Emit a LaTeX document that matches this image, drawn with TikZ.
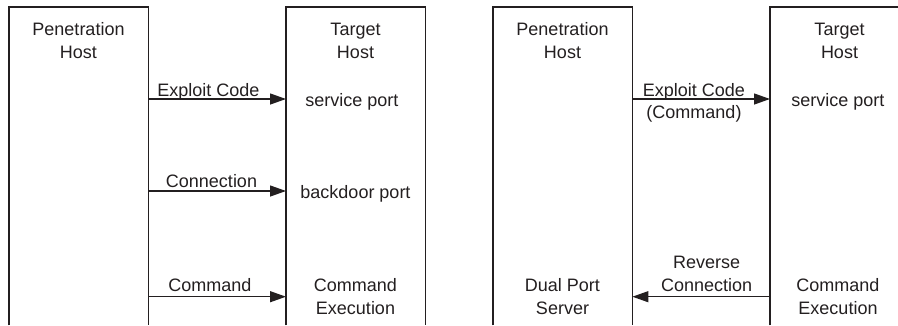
\documentclass[tikz,border=0pt]{standalone}
\usepackage{fontspec}
\setmainfont{Liberation Sans}
\usetikzlibrary{arrows.meta, positioning}
\definecolor{tinta}{RGB}{35, 31, 32}
\tikzset{
    host/.style={rectangle, draw=none, minimum width=139pt, minimum height=318pt, inner sep=0pt},
    wall/.style={tinta, line width=1.3pt},
    lbl/.style={text=tinta, font=\fontsize{18}{22.5}\selectfont, align=center, inner sep=0pt, anchor=base},
    msg/.style={-{Triangle[length=16pt, width=11pt]}, tinta, line width=1.3pt},
}

\begin{document}
\begin{tikzpicture}[x=1pt, y=-1pt]
    \useasboundingbox (0,0) rectangle (898,325);
    \clip (0,0) rectangle (898,325);
    % hosts, open at the bottom
    \node[host, anchor=north west] (pen1) at (9,7) {};
    \node[host, anchor=north west] (tgt1) at (286,7) {};
    \node[host, anchor=north west] (pen2) at (493,7) {};
    \node[host, anchor=north west] (tgt2) at (770,7) {};
    \draw[wall] (pen1.south west) |- (pen1.north east) -- (pen1.south east);
    \draw[wall] (tgt1.south west) |- (tgt1.north east) -- (tgt1.south east);
    \draw[wall] (pen2.south west) |- (pen2.north east) -- (pen2.south east);
    \draw[wall] (tgt2.south west) |- (tgt2.north east) -- (tgt2.south east);

    % base of a two-line label is its last line
    \node[lbl] (pen1t) at (78.5,58.3) {Penetration\\Host};
    \node[lbl] (tgt1t) at (355.5,58.3) {Target\\Host};
    \node[lbl] (svc1) at (352,106) {service port};
    \node[lbl] (bkd1) at (355.5,198) {backdoor port};
    \node[lbl] (exe1) at (355.5,314) {Command\\Execution};

    \node[lbl] (pen2t) at (562.5,58.3) {Penetration\\Host};
    \node[lbl] (tgt2t) at (839.5,58.3) {Target\\Host};
    \node[lbl] (svc2) at (838,106) {service port};
    \node[lbl] (dual2) at (562.5,314) {Dual Port\\Server};
    \node[lbl] (exe2) at (838,314) {Command\\Execution};

    % messages
    \coordinate (row1) at (0,99);
    \coordinate (row2) at (0,191);
    \coordinate (row3) at (0,296.7);
    \draw[msg] (pen1.east |- row1) -- (tgt1.west |- row1);
    \draw[msg] (pen1.east |- row2) -- (tgt1.west |- row2);
    \draw[msg] (pen1.east |- row3) -- (tgt1.west |- row3);
    \draw[msg] (pen2.east |- row1) -- (tgt2.west |- row1);
    \draw[msg] (tgt2.west |- row3) -- (pen2.east |- row3);

    \node[lbl] (m1a) at (208.5,96.7) {Exploit Code};
    \node[lbl] (m1b) at (211.5,187.3) {Connection};
    \node[lbl] (m1c) at (210,291.7) {Command};
    \node[lbl] (m2a) at (694,96.7) {Exploit Code};
    \node[lbl] (m2b) at (694,118.3) {(Command)};
    \node[lbl] (m2c) at (706.7,291) {Reverse\\Connection};
\end{tikzpicture}
\end{document}
